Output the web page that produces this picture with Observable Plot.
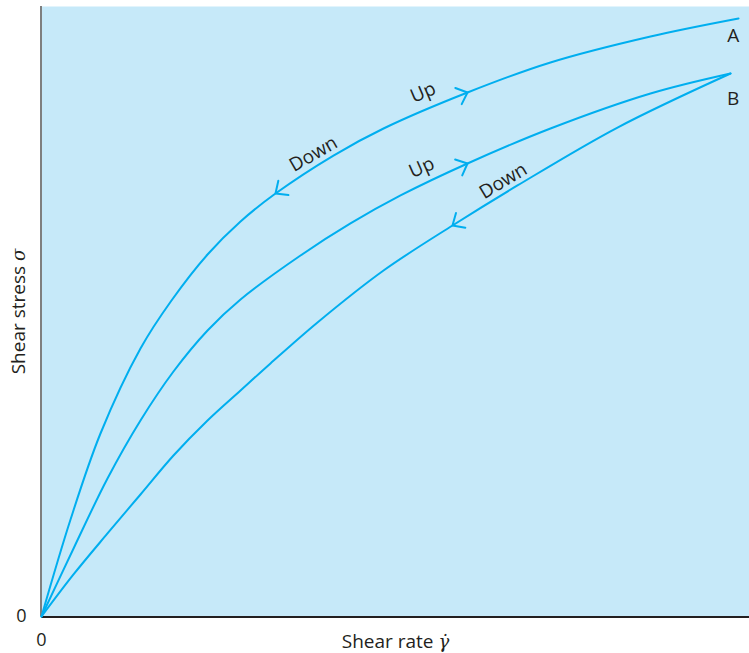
<!DOCTYPE html>
<html><head><meta charset="utf-8">
<script src="https://cdn.jsdelivr.net/npm/d3@7"></script>
<script src="https://cdn.jsdelivr.net/npm/@observablehq/plot@0.6"></script>
<style>body{margin:0;background:#fff;}</style>
</head><body><div id="chart"></div>
<script>
// Curve A (up and down branches coincide)
const curveAX = [0, 4.10, 8.33, 13.98, 18.36, 23.45, 28.11, 33.05, 41.24, 48.31, 60.17, 71.89, 86.02, 98.45];
const curveAY = [0, 15.90, 30.00, 43.93, 51.80, 59.34, 64.75, 69.34, 75.57, 80.00, 85.90, 90.82, 95.08, 98.03];
// Curve B, up branch
const curveBUpX = [0, 4.66, 9.32, 13.98, 18.64, 23.45, 28.11, 36.58, 43.64, 50.71, 60.17, 71.89, 86.02, 97.32];
const curveBUpY = [0, 11.48, 22.62, 32.13, 40.16, 46.89, 51.97, 59.18, 64.43, 69.02, 74.26, 80.00, 85.74, 89.02];
// Curve B, down branch
const curveBDownX = [0, 4.52, 9.32, 13.98, 18.64, 23.45, 28.11, 32.34, 38.98, 48.31, 58.05, 67.23, 81.36, 97.32];
const curveBDownY = [0, 6.89, 13.61, 20.00, 26.39, 32.13, 37.05, 41.48, 48.20, 56.72, 64.10, 70.66, 80.16, 89.02];

// Direction arrows: curve, index of the point on that curve, direction of travel
const arrowCurve = ["A", "A", "BUp", "BDown"];
const arrowIndex = [10, 7, 10, 10];
const arrowDir = [1, -1, 1, -1];

// Text annotations
const labelText = ["Up", "Down", "Up", "Down", "A", "B"];
const labelX = [53.9, 38.4, 53.7, 65.2, 97.7, 97.7];
const labelY = [85.9, 75.8, 73.6, 71.4, 95.2, 84.9];
const labelAngle = [-23, -30, -24, -31, 0, 0];

const xTicks = [0];
const yTicks = [0];
const xLabelText = "Shear rate ", xLabelSymbol = "\u03B3\u0307";
const yLabelText = "Shear stress ", yLabelSymbol = "\u03C3";

const W = 749, H = 653;
const mT = 6, mB = 37, mL = 41, mR = 0;
const ink = "#231f20", blue = "#00aeef";

const curves = {
  A: curveAX.map((x, i) => ({x, y: curveAY[i], c: "A"})),
  BUp: curveBUpX.map((x, i) => ({x, y: curveBUpY[i], c: "BUp"})),
  BDown: curveBDownX.map((x, i) => ({x, y: curveBDownY[i], c: "BDown"}))
};
const curveData = [...curves.A, ...curves.BUp, ...curves.BDown];

const xs = Plot.scale({x: {domain: [0, 100], range: [mL, W - mR]}});
const ys = Plot.scale({y: {domain: [0, 100], range: [H - mB, mT]}});

// Chevrons built from the curve tangent in screen space
const arm = 13, half = 42 * Math.PI / 180;
const chevrons = [];
arrowCurve.forEach((c, k) => {
  const pts = curves[c], i = arrowIndex[k];
  const p0 = pts[i - 1], p1 = pts[i], p2 = pts[i + 1];
  const tx = xs.apply(p1.x), ty = ys.apply(p1.y);
  let dx = xs.apply(p2.x) - xs.apply(p0.x), dy = ys.apply(p2.y) - ys.apply(p0.y);
  const len = Math.hypot(dx, dy);
  dx = dx / len * arrowDir[k]; dy = dy / len * arrowDir[k];
  const th = Math.atan2(dy, dx);
  const a1 = th + Math.PI - half, a2 = th + Math.PI + half;
  [[tx + arm * Math.cos(a1), ty + arm * Math.sin(a1)], [tx, ty], [tx + arm * Math.cos(a2), ty + arm * Math.sin(a2)]]
    .forEach(([px, py]) => chevrons.push({x: xs.invert(px), y: ys.invert(py), k}));
});

const labels = labelText.map((t, i) => ({t, x: labelX[i], y: labelY[i], r: labelAngle[i]}));

const plot = Plot.plot({
  width: W, height: H,
  marginTop: mT, marginBottom: mB, marginLeft: mL, marginRight: mR,
  style: {fontFamily: "'Open Sans', sans-serif", color: ink, background: "#fff", overflow: "visible"},
  x: {domain: [0, 100]},
  y: {domain: [0, 100]},
  marks: [
    Plot.frame({fill: "#c6e9f9", stroke: "none"}),
    Plot.ruleX([0], {stroke: "#7f7f7f", strokeWidth: 2, dx: -0.5}),
    Plot.ruleY([0], {stroke: ink, strokeWidth: 2, dy: 0.5}),
    Plot.line(curveData, {x: "x", y: "y", z: "c", stroke: blue, strokeWidth: 2, curve: "catmull-rom"}),
    Plot.line(chevrons, {x: "x", y: "y", z: "k", stroke: blue, strokeWidth: 2, strokeLinejoin: "miter"}),
    Plot.text(labels, {x: "x", y: "y", text: "t", rotate: "r", fontSize: 19, fill: ink}),
    Plot.axisX({ticks: xTicks, tickSize: 0, tickPadding: 17, label: null, fontSize: 18, tickFormat: d => String(d)}),
    Plot.axisY({ticks: yTicks, tickSize: 0, tickPadding: 15, label: null, fontSize: 18, tickFormat: d => String(d)}),
    Plot.text([xLabelText + xLabelSymbol], {frameAnchor: "bottom", dy: 25, fontSize: 19, fill: ink, textAnchor: "middle", lineAnchor: "middle"}),
    Plot.text([yLabelText + yLabelSymbol], {frameAnchor: "left", dx: -23, rotate: -90, fontSize: 19, fill: ink, textAnchor: "middle", lineAnchor: "middle"})
  ]
});
document.getElementById("chart").appendChild(plot);

// Italicise the symbol in each axis title
[[xLabelText, xLabelSymbol], [yLabelText, yLabelSymbol]].forEach(([plain, sym]) => {
  d3.select(plot).selectAll("text").filter(function () { return this.textContent === plain + sym; })
    .each(function () {
      const t = d3.select(this);
      t.text(null);
      t.append("tspan").text(plain);
      t.append("tspan").attr("font-style", "italic").attr("font-family", "'DejaVu Serif', serif").attr("font-size", 18).text(sym);
    });
});
</script>
</body></html>
